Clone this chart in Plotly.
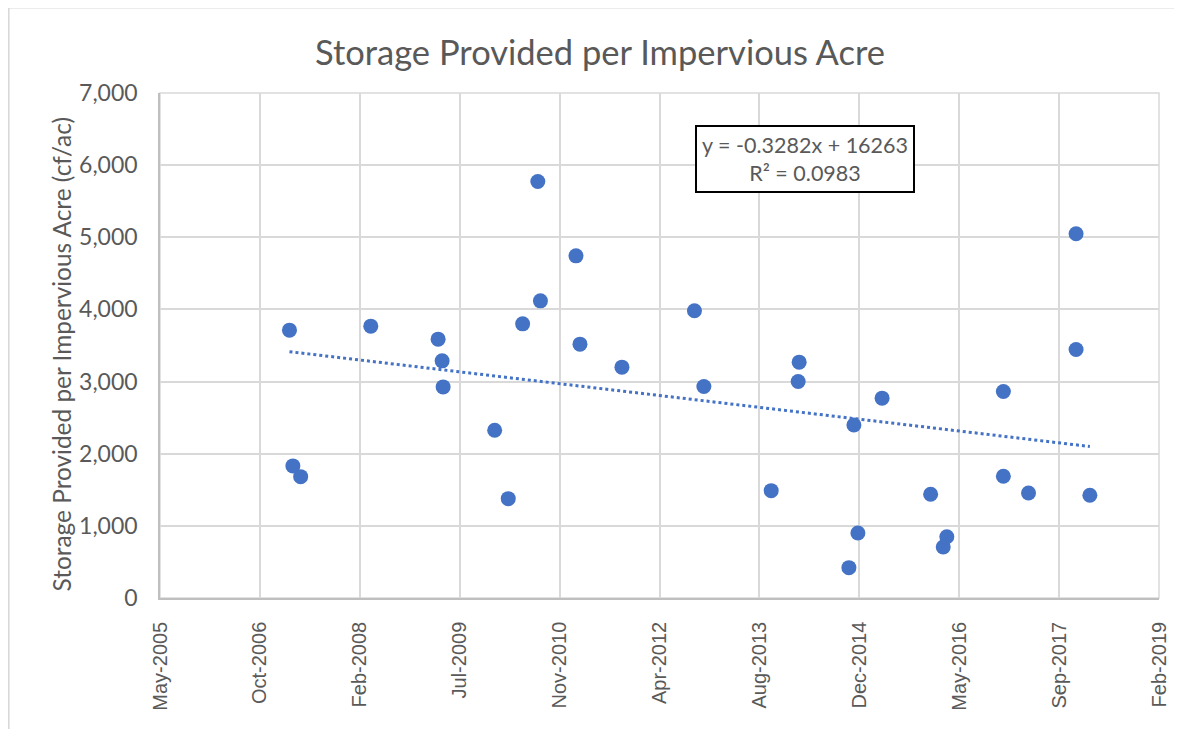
import plotly.graph_objects as go

# Dates as Excel serial day numbers (origin 1899-12-30), values in cf/ac
date_serial = [39148, 39165, 39204, 39555, 39892, 39912, 39917, 40175, 40243, 40315,
               40391, 40404, 40582, 40602, 40812, 41175, 41222, 41559, 41694, 41699,
               41948, 41973, 41993, 42114, 42357, 42420, 42438, 42721, 42721, 42847,
               43085, 43085, 43154]
storage = [3713, 1831, 1682, 3768, 3588, 3287, 2926, 2326, 1377, 3800,
           5774, 4119, 4743, 3519, 3200, 3981, 2931, 1488, 3000, 3269,
           421, 2399, 902, 2770, 1438, 707, 850, 2862, 1688, 1456,
           5049, 3444, 1424]

tick_serial = [38500, 39000, 39500, 40000, 40500, 41000, 41500, 42000, 42500, 43000, 43500]
tick_text = ["May-2005", "Oct-2006", "Feb-2008", "Jul-2009", "Nov-2010", "Apr-2012",
             "Aug-2013", "Dec-2014", "May-2016", "Sep-2017", "Feb-2019"]
y_ticks = [0, 1000, 2000, 3000, 4000, 5000, 6000, 7000]

# Linear trendline as reported on the chart
slope = -0.3282
intercept = 16263
r_squared = 0.0983

trend_x = [min(date_serial), max(date_serial)]
trend_y = [slope * v + intercept for v in trend_x]

BLUE = "#4472C4"
GRID = "#D9D9D9"
TXT = "#595959"
CAL = "Lato, 'Open Sans', sans-serif"

fig = go.Figure()
fig.add_trace(go.Scatter(x=trend_x, y=trend_y, mode="lines",
                         line=dict(color=BLUE, width=3, dash="dot"),
                         hoverinfo="skip", showlegend=False))
fig.add_trace(go.Scatter(x=date_serial, y=storage, mode="markers",
                         marker=dict(color=BLUE, size=15, line=dict(width=0)),
                         showlegend=False))

OFF = 8  # page offset of the figure inside the browser window
W, H = 1174, 721
L, T = 160 - OFF, 93 - OFF
R = W - (1163 - OFF)
B = H - (598 - OFF)
pw, ph = W - L - R, H - T - B

def px_x(px):
    return (px - OFF - L) / pw

def px_y(py):
    return (T + ph - (py - OFF)) / ph

fig.update_layout(
    width=W, height=H,
    margin=dict(l=L, r=R, t=T, b=B),
    paper_bgcolor="white", plot_bgcolor="white",
    title=dict(text="Storage Provided per Impervious Acre", x=(600 - OFF) / W, xanchor="center",
               xref="container", y=1 - (53 - OFF) / H, yanchor="middle", yref="container",
               font=dict(family=CAL, size=34.5, color=TXT)),
    xaxis=dict(range=[38500, 43500], tickmode="array", tickvals=tick_serial, ticktext=tick_text,
               tickangle=-90, showgrid=True, gridcolor=GRID, gridwidth=1.5,
               showline=True, linecolor="#BFBFBF", linewidth=1.5, zeroline=False,
               ticks="", ticklabelstandoff=14,
               tickfont=dict(family="Liberation Sans, Arial, sans-serif", size=20, color=TXT)),
    yaxis=dict(range=[0, 7000], tickmode="array", tickvals=y_ticks, tickformat=",",
               showgrid=True, gridcolor=GRID, gridwidth=1.5,
               showline=True, linecolor="#BFBFBF", linewidth=1.5, zeroline=False,
               ticks="", ticklabelstandoff=16, tickfont=dict(family=CAL, size=23, color=TXT)),
)

# right & top grid borders of the plot area
fig.add_shape(type="rect", xref="paper", yref="paper", x0=0, x1=1, y0=0, y1=1,
              line=dict(color=GRID, width=1.5), layer="below")

# chart area border (light gray)
fig.add_shape(type="rect", xref="paper", yref="paper",
              x0=px_x(8), x1=px_x(1220), y0=px_y(760), y1=px_y(7.5),
              line=dict(color=GRID, width=2), layer="below")

fig.add_annotation(text="Storage Provided per Impervious Acre (cf/ac)", textangle=-90,
                   xref="paper", yref="paper", x=px_x(61), y=px_y(354),
                   xanchor="center", yanchor="middle", showarrow=False,
                   font=dict(family=CAL, size=24.4, color=TXT))

fig.add_annotation(text=f"y = {slope}x + {intercept}<br>R² = {r_squared}",
                   xref="paper", yref="paper", x=px_x(808), y=px_y(158.5),
                   xanchor="center", yanchor="middle", showarrow=False,
                   width=214, height=62, borderpad=1,
                   bgcolor="white", bordercolor="black", borderwidth=2,
                   font=dict(family=CAL, size=21.5, color=TXT))

fig.write_html("out.html")
